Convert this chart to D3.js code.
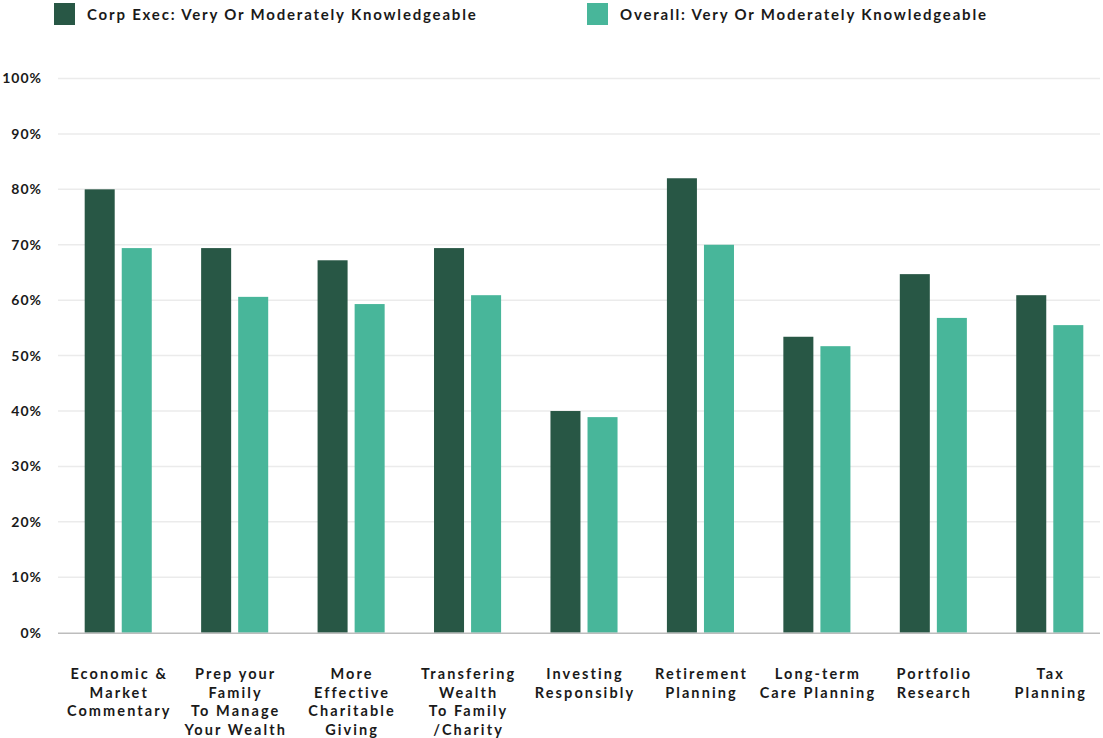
<!DOCTYPE html>
<html>
<head>
<meta charset="utf-8">
<script src="https://cdn.jsdelivr.net/npm/d3@7"></script>
<style>
  body { margin: 0; background: #fff; }
  svg { display: block; font-family: Lato, "Open Sans", sans-serif; }
</style>
</head>
<body>
<div id="chart"></div>
<script>
const categories = [
  ['Economic &', 'Market', 'Commentary'],
  ['Prep your', 'Family', 'To Manage', 'Your Wealth'],
  ['More', 'Effective', 'Charitable', 'Giving'],
  ['Transfering', 'Wealth', 'To Family', '/Charity'],
  ['Investing', 'Responsibly'],
  ['Retirement', 'Planning'],
  ['Long-term', 'Care Planning'],
  ['Portfolio', 'Research'],
  ['Tax', 'Planning']
]
const seriesNames = ['Corp Exec: Very Or Moderately Knowledgeable', 'Overall: Very Or Moderately Knowledgeable']
const corpExec = [80.0, 69.4, 67.2, 69.4, 40.0, 82.0, 53.4, 64.7, 60.9]
const overall = [69.4, 60.6, 59.3, 60.9, 38.9, 70.0, 51.7, 56.8, 55.5]
const yTicks = [0, 10, 20, 30, 40, 50, 60, 70, 80, 90, 100]
const colors = ['#285745', '#48b69a']

const width = 1103, height = 738
const margin = { left: 58, right: 3, top: 78.5, bottom: 105 }

const data = categories.map((c, i) => ({ key: i, label: c, values: [corpExec[i], overall[i]] }))

const svg = d3.select('#chart')
  .append('svg')
  .attr('width', width)
  .attr('height', height)

const x = d3.scaleBand()
  .domain(data.map(d => d.key))
  .range([60, 1108])
  .paddingInner(0.424)
  .paddingOuter(0.212)

const xInner = d3.scaleBand()
  .domain([0, 1])
  .range([0, x.bandwidth()])
  .paddingInner(0.19)

const y = d3.scaleLinear()
  .domain([0, 100])
  .range([height - margin.bottom - 0.3, margin.top])

// grid
svg.append('g')
  .attr('class', 'grid')
  .selectAll('line')
  .data(yTicks.slice(1))
  .join('line')
  .attr('x1', margin.left)
  .attr('x2', width - margin.right)
  .attr('y1', d => y(d))
  .attr('y2', d => y(d))
  .attr('stroke', '#ebebeb')
  .attr('stroke-width', 1.5)

// y labels
const yAxis = svg.append('g')
  .attr('class', 'y-axis')
  .attr('transform', `translate(${margin.left}, 0)`)
  .call(d3.axisLeft(y).tickValues(yTicks).tickFormat(d => d + '%').tickSize(0).tickPadding(16))

yAxis.select('.domain').remove()
yAxis.selectAll('text')
  .attr('font-family', 'Lato, sans-serif')
  .attr('font-size', 14)
  .attr('font-weight', 700)
  .attr('letter-spacing', 1)
  .attr('fill', '#1a1a1a')

// bars
const groups = svg.append('g')
  .attr('class', 'bars')
  .selectAll('g')
  .data(data)
  .join('g')
  .attr('transform', d => `translate(${x(d.key)}, 0)`)

groups.selectAll('rect')
  .data(d => d.values.map((v, i) => ({ v, i })))
  .join('rect')
  .attr('x', d => xInner(d.i))
  .attr('width', xInner.bandwidth())
  .attr('y', d => y(d.v))
  .attr('height', d => y(0) - y(d.v))
  .attr('fill', d => colors[d.i])

// baseline
svg.append('line')
  .attr('x1', margin.left)
  .attr('x2', width - margin.right)
  .attr('y1', y(0) + 0.5)
  .attr('y2', y(0) + 0.5)
  .attr('stroke', '#bdbdbd')
  .attr('stroke-width', 1.5)

// x labels
const xLabels = svg.append('g')
  .attr('class', 'x-labels')
  .selectAll('text')
  .data(data)
  .join('text')
  .attr('text-anchor', 'middle')
  .attr('font-size', 14.5)
  .attr('font-weight', 700)
  .attr('letter-spacing', 2.1)
  .attr('fill', '#1a1a1a')
  .attr('transform', d => `translate(${x(d.key) + x.bandwidth() / 2 + 1}, 679)`)

xLabels.selectAll('tspan')
  .data(d => d.label)
  .join('tspan')
  .attr('x', 0)
  .attr('y', (d, i) => i * 18.6)
  .text(d => d)

// legend
const legend = svg.append('g')
  .attr('class', 'legend')
  .selectAll('g')
  .data(seriesNames)
  .join('g')
  .attr('transform', (d, i) => `translate(${i === 0 ? 54 : 587}, 3)`)

legend.append('rect')
  .attr('width', 21)
  .attr('height', 22)
  .attr('fill', (d, i) => colors[i])

legend.append('text')
  .attr('x', 33)
  .attr('y', 17)
  .attr('font-size', 15)
  .attr('font-weight', 700)
  .attr('letter-spacing', 1.8)
  .attr('fill', '#1a1a1a')
  .text(d => d)
</script>
</body>
</html>
